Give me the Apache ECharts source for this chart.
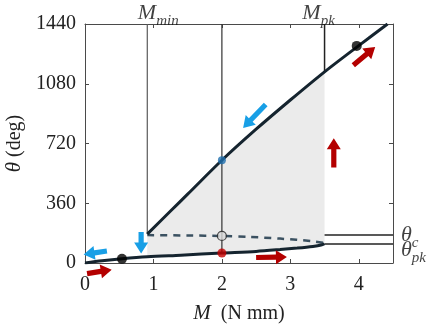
<!DOCTYPE html>
<html>
<head>
<meta charset="utf-8">
<script src="https://cdn.jsdelivr.net/npm/echarts@6/dist/echarts.min.js"></script>
<style>
  html, body { margin: 0; padding: 0; background: #fff; }
  #chart { width: 435px; height: 325px; }
</style>
</head>
<body>
<div id="chart"></div>
<script>
const serif = 'Liberation Serif'

// curves (M in N mm, theta in deg)
const mUpper = [0.91, 1.25, 1.5, 2, 2.5, 3, 3.5, 4, 4.42]
const thetaUpper = [174, 313, 415, 619, 806, 982, 1152, 1310, 1440]
const mLower = [0, 0.25, 0.54, 0.91, 1.4, 2, 2.5, 2.85, 3.1, 3.33, 3.45, 3.5]
const thetaLower = [0, 13, 25, 37, 47, 60, 70, 81, 90, 100, 108, 116]
const mDashed = [0.91, 1.5, 2, 2.4, 2.85, 3.33, 3.5]
const thetaDashed = [168, 166, 163, 157, 147, 131, 120]

const mMin = 0.91
const mPk = 3.5
const mProbe = 2
const thetaC = 169
const thetaPk = 115
const xTicks = [0, 1, 2, 3, 4]
const yTicks = [0, 360, 720, 1080, 1440]

const blackDots = [[0.54, 25], [3.97, 1308]]
const redDot = [[2, 60]]
const blueDot = [[2, 619]]
const openDot = [[2, 163]]

// arrows: [x tail, theta tail, x head, theta head, kind]
const arrows = [
  [0.03, -64, 0.39, -40, 'load'],
  [0.32, 72, -0.02, 51, 'unload'],
  [0.82, 187, 0.82, 57, 'unload'],
  [2.5, 33, 2.95, 36, 'load'],
  [3.635, 575, 3.635, 752, 'load'],
  [2.64, 955, 2.31, 814, 'unload'],
  [3.92, 1192, 4.24, 1302, 'load']
]

const zip = (xs, ys) => xs.map((x, i) => [x, ys[i]])
const upper = zip(mUpper, thetaUpper)
const lower = zip(mLower, thetaLower)
const dashed = zip(mDashed, thetaDashed)

const curveColor = '#15242f'
const axisColor = '#4a4a4a'
const arrowColors = { load: '#b40000', unload: '#189fe6' }

const rich = {
  v: { fontFamily: serif, fontStyle: 'italic', fontSize: 22, color: '#111' },
  s: { fontFamily: serif, fontStyle: 'italic', fontSize: 15, color: '#111', padding: [16, 0, 0, 0] }
}

const chart = echarts.init(document.getElementById('chart'))

function renderFill(params, api) {
  const top = upper.filter(p => p[0] >= mMin && p[0] <= mPk)
  const bottom = lower.filter(p => p[0] >= mMin && p[0] <= mPk).reverse()
  const pts = top.concat(bottom).map(p => api.coord(p))
  return { type: 'polygon', shape: { points: pts }, style: { fill: '#ebebeb' } }
}

function renderArrow(params, api) {
  const a = api.coord([api.value(0), api.value(1)])
  const b = api.coord([api.value(2), api.value(3)])
  const dx = b[0] - a[0], dy = b[1] - a[1]
  const len = Math.hypot(dx, dy)
  const ux = dx / len, uy = dy / len
  const nx = -uy, ny = ux
  const hl = 11, hw = 7, sw = 2.6
  const bx = b[0] - ux * hl, by = b[1] - uy * hl
  const pts = [
    [a[0] + nx * sw, a[1] + ny * sw],
    [bx + nx * sw, by + ny * sw],
    [bx + nx * hw, by + ny * hw],
    b,
    [bx - nx * hw, by - ny * hw],
    [bx - nx * sw, by - ny * sw],
    [a[0] - nx * sw, a[1] - ny * sw]
  ]
  const kind = arrows[params.dataIndex][4]
  return { type: 'polygon', shape: { points: pts }, style: { fill: arrowColors[kind] } }
}

const vline = (data, color, width) => ({
  type: 'line', data, symbol: 'none', silent: true, z: 3,
  lineStyle: { color, width }
})

const label = (point, text, position, offset) => ({
  type: 'scatter', data: [point], symbolSize: 0, silent: true, z: 10,
  label: { show: true, formatter: text, position, distance: 0, offset, rich }
})

const axisCommon = {
  type: 'value',
  axisLine: { show: true, onZero: false, lineStyle: { color: axisColor, width: 1 } },
  axisTick: { show: true, inside: true, length: 4, lineStyle: { color: axisColor } },
  splitLine: { show: false }
}

chart.setOption({
  animation: false,
  grid: { left: 85, right: 42, top: 24, bottom: 62, outerBoundsMode: 'none' },
  xAxis: [{
    ...axisCommon,
    position: 'bottom',
    min: 0, max: 4.5, interval: 1,
    axisLabel: {
      fontFamily: serif, fontSize: 20, color: '#222', margin: 12,
      formatter: v => (xTicks.includes(v) ? String(v) : '')
    },
    name: '{i|M}  (N mm)',
    nameLocation: 'middle',
    nameGap: 40,
    nameTextStyle: {
      fontFamily: serif, fontSize: 20, color: '#222',
      rich: { i: { fontFamily: serif, fontStyle: 'italic', fontSize: 21, color: '#222' } }
    }
  }, {
    ...axisCommon,
    position: 'top',
    min: 0, max: 4.5, interval: 1,
    axisLabel: { show: false }
  }],
  yAxis: [{
    ...axisCommon,
    position: 'left',
    min: 0, max: 1440, interval: 360,
    axisLabel: {
      fontFamily: serif, fontSize: 20, color: '#222', margin: 9,
      formatter: v => (yTicks.includes(v) ? String(v) : '')
    },
    name: '{i|θ} (deg)',
    nameLocation: 'middle',
    nameGap: 60,
    nameRotate: 90,
    nameTextStyle: {
      fontFamily: serif, fontSize: 20, color: '#222',
      rich: { i: { fontFamily: serif, fontStyle: 'italic', fontSize: 21, color: '#222' } }
    }
  }, {
    ...axisCommon,
    position: 'right',
    min: 0, max: 1440, interval: 360,
    axisLabel: { show: false }
  }],
  series: [
    { type: 'custom', renderItem: renderFill, data: [0], silent: true, z: 1 },
    vline([[mMin, 1440], upper[0]], '#5a5a5a', 1.2),
    vline([[mProbe, 1440], redDot[0]], '#333', 1.2),
    vline([[mPk, 1440], [mPk, thetaUpper[mUpper.indexOf(mPk)]]], '#222', 1.5),
    vline([[mPk, thetaC], [4.5, thetaC]], '#222', 1.5),
    vline([[mPk, thetaPk], [4.5, thetaPk]], '#222', 1.5),
    {
      type: 'line', data: dashed, symbol: 'none', z: 4, smooth: 0.3,
      lineStyle: { color: '#3b5161', width: 2.5, type: [7, 6] }
    },
    {
      type: 'line', data: lower, symbol: 'none', z: 5, smooth: 0.3,
      lineStyle: { color: curveColor, width: 3 }
    },
    {
      type: 'line', data: upper, symbol: 'none', z: 5, smooth: 0.3,
      lineStyle: { color: curveColor, width: 3 }
    },
    { type: 'scatter', data: blackDots, symbolSize: 10, z: 6, itemStyle: { color: '#000' } },
    { type: 'scatter', data: redDot, symbolSize: 9, z: 6, itemStyle: { color: '#c40000' } },
    { type: 'scatter', data: blueDot, symbolSize: 8, z: 6, itemStyle: { color: '#1f6fae' } },
    {
      type: 'scatter', data: openDot, symbolSize: 9, z: 6,
      itemStyle: { color: '#d8d8d8', borderColor: '#222', borderWidth: 1.2 }
    },
    { type: 'custom', renderItem: renderArrow, data: arrows.map(a => a.slice(0, 4)), silent: true, z: 8 },
    label([mMin, 1440], '{v|M}{s|min}', 'top', [11, 5]),
    label([mPk, 1440], '{v|M}{s|pk}', 'top', [-6, 5]),
    label([4.5, thetaC], '{v|θ}{s|c}', 'right', [8, 0]),
    label([4.5, thetaPk], '{v|θ}{s|pk}', 'right', [8, 6])
  ]
})
</script>
</body>
</html>
